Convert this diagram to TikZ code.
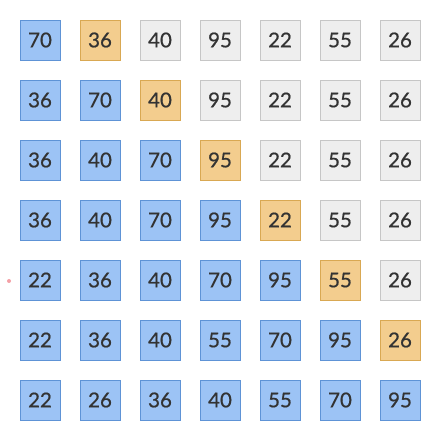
\documentclass[tikz,border=0pt]{standalone}
\usepackage{fontspec}
\setmainfont{Lato}
\newfontfamily\cellfont[FakeBold=0.7]{Lato}
\usepackage{tikz}

\definecolor{sortblue}{HTML}{9CC3F5}
\definecolor{sortblueline}{HTML}{5E93D6}
\definecolor{pickfill}{HTML}{F3CD8E}
\definecolor{pickline}{HTML}{D9A852}
\definecolor{restfill}{HTML}{EEEEEE}
\definecolor{restline}{HTML}{C6C6C6}
\definecolor{numtext}{HTML}{333333}
\definecolor{markpink}{HTML}{F4A0A6}

\begin{document}
\begin{tikzpicture}[x=1pt,y=1pt]
\tikzstyle{cell}=[rectangle,minimum size=40pt,inner sep=0pt,line width=0.8pt,text=numtext,font=\cellfont\fontsize{20.5}{24}\selectfont]
\tikzstyle{done}=[cell,fill=sortblue,draw=sortblueline]
\tikzstyle{pick}=[cell,fill=pickfill,draw=pickline]
\tikzstyle{rest}=[cell,fill=restfill,draw=restline]

\useasboundingbox (0,0) rectangle (440,440);

%row 1
\node[done] (c11) at (40,400) {70};
\node[pick] (c12) at (100,400) {36};
\node[rest] (c13) at (160,400) {40};
\node[rest] (c14) at (220,400) {95};
\node[rest] (c15) at (280,400) {22};
\node[rest] (c16) at (340,400) {55};
\node[rest] (c17) at (400,400) {26};

%row 2
\node[done] (c21) at (40,340) {36};
\node[done] (c22) at (100,340) {70};
\node[pick] (c23) at (160,340) {40};
\node[rest] (c24) at (220,340) {95};
\node[rest] (c25) at (280,340) {22};
\node[rest] (c26) at (340,340) {55};
\node[rest] (c27) at (400,340) {26};

%row 3
\node[done] (c31) at (40,280) {36};
\node[done] (c32) at (100,280) {40};
\node[done] (c33) at (160,280) {70};
\node[pick] (c34) at (220,280) {95};
\node[rest] (c35) at (280,280) {22};
\node[rest] (c36) at (340,280) {55};
\node[rest] (c37) at (400,280) {26};

%row 4
\node[done] (c41) at (40,220) {36};
\node[done] (c42) at (100,220) {40};
\node[done] (c43) at (160,220) {70};
\node[done] (c44) at (220,220) {95};
\node[pick] (c45) at (280,220) {22};
\node[rest] (c46) at (340,220) {55};
\node[rest] (c47) at (400,220) {26};

%row 5
\node[done] (c51) at (40,160) {22};
\node[done] (c52) at (100,160) {36};
\node[done] (c53) at (160,160) {40};
\node[done] (c54) at (220,160) {70};
\node[done] (c55) at (280,160) {95};
\node[pick] (c56) at (340,160) {55};
\node[rest] (c57) at (400,160) {26};

%row 6
\node[done] (c61) at (40,100) {22};
\node[done] (c62) at (100,100) {36};
\node[done] (c63) at (160,100) {40};
\node[done] (c64) at (220,100) {55};
\node[done] (c65) at (280,100) {70};
\node[done] (c66) at (340,100) {95};
\node[pick] (c67) at (400,100) {26};

%row 7
\node[done] (c71) at (40,40) {22};
\node[done] (c72) at (100,40) {26};
\node[done] (c73) at (160,40) {36};
\node[done] (c74) at (220,40) {40};
\node[done] (c75) at (280,40) {55};
\node[done] (c76) at (340,40) {70};
\node[done] (c77) at (400,40) {95};

%small pink dot
\node[circle,fill=markpink,inner sep=0pt,minimum size=4pt] (dot) at (9,159) {};
\end{tikzpicture}
\end{document}
